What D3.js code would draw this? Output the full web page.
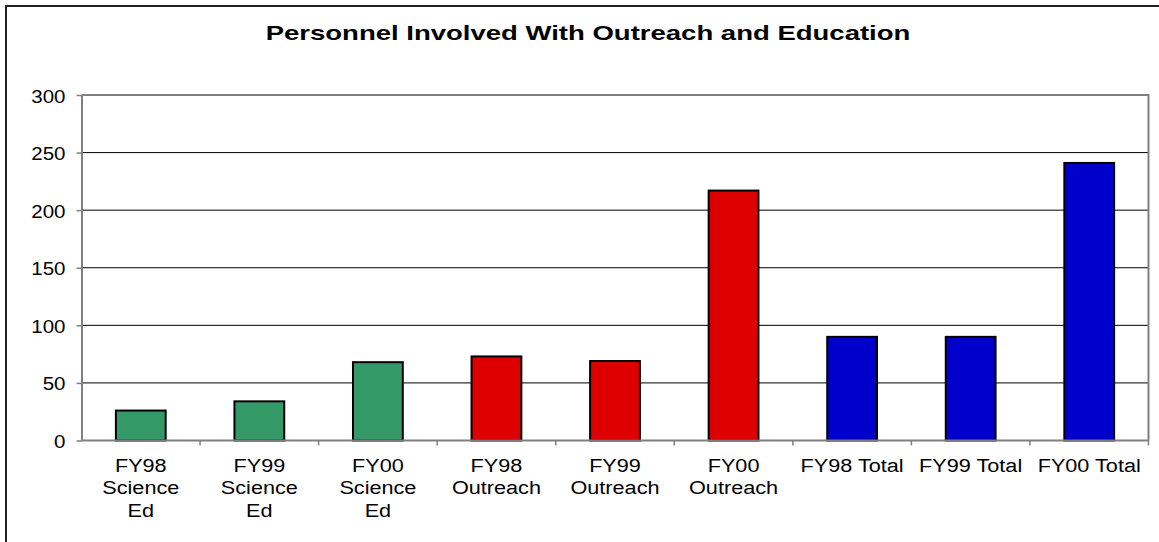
<!DOCTYPE html>
<html>
<head>
<meta charset="utf-8">
<script src="https://cdn.jsdelivr.net/npm/d3@7"></script>
<style>
	body { margin: 0; background: #fff; }
	text { font-family: Arial, "Liberation Sans", sans-serif; fill: #000; }
</style>
</head>
<body>
<div class="chart"></div>
<script>
// data
var categories = ["FY98 Science Ed", "FY99 Science Ed", "FY00 Science Ed",
		"FY98 Outreach", "FY99 Outreach", "FY00 Outreach",
		"FY98 Total", "FY99 Total", "FY00 Total"];
var labelLines = [["FY98", "Science", "Ed"], ["FY99", "Science", "Ed"], ["FY00", "Science", "Ed"],
		["FY98", "Outreach"], ["FY99", "Outreach"], ["FY00", "Outreach"],
		["FY98 Total"], ["FY99 Total"], ["FY00 Total"]];
var values = [26, 34, 68, 73, 69, 217, 90, 90, 241];
var groups = ["sci", "sci", "sci", "out", "out", "out", "tot", "tot", "tot"];
var yTicks = [0, 50, 100, 150, 200, 250, 300];
var title = "Personnel Involved With Outreach and Education";

var width = 1159,
	height = 542;
var plot = {left: 81.5, right: 1148.5, top: 95, bottom: 440.5};
var colors = {sci: "#339966", out: "#dd0000", tot: "#0000cc"};

var svg = d3.select(".chart").append("svg")
	.attr("width", width)
	.attr("height", height);

// outer chart border, runs off the right and bottom edge
svg.append("rect")
	.attr("x", 6).attr("y", 6)
	.attr("width", 1300).attr("height", 700)
	.attr("fill", "none")
	.attr("stroke", "#222")
	.attr("stroke-width", 2);

svg.append("text")
	.attr("transform", "translate(588,40) scale(1.31,1)")
	.attr("text-anchor", "middle")
	.style("font-size", "21px")
	.style("font-weight", "bold")
	.text(title);

var x = d3.scaleBand()
	.domain(categories)
	.range([plot.left, plot.right]);

var y = d3.scaleLinear()
	.domain([0, 300])
	.range([plot.bottom, plot.top]);

// gridlines
svg.selectAll("line.grid")
	.data(yTicks.filter(function(d) { return d > 0 && d < 300; })).enter()
	.append("line")
	.attr("class", "grid")
	.attr("x1", plot.left).attr("x2", plot.right)
	.attr("y1", function(d) { return y(d); })
	.attr("y2", function(d) { return y(d); })
	.attr("stroke", "#000")
	.attr("stroke-width", 1);

// plot frame top and right
svg.append("path")
	.attr("d", "M" + plot.left + "," + y(300) + "H" + plot.right + "V" + y(0))
	.attr("fill", "none")
	.attr("stroke", "#808080")
	.attr("stroke-width", 2);

// bars
svg.selectAll("rect.bar")
	.data(values).enter()
	.append("rect")
	.attr("class", "bar")
	.attr("x", function(d, i) { return x(categories[i]) + x.bandwidth() * 0.29; })
	.attr("width", x.bandwidth() * 0.42)
	.attr("y", function(d) { return y(d); })
	.attr("height", function(d) { return y(0) - y(d); })
	.attr("fill", function(d, i) { return colors[groups[i]]; })
	.attr("stroke", "#000")
	.attr("stroke-width", 2);

// y axis
var yAxis = svg.append("g")
	.attr("transform", "translate(" + plot.left + ",0)")
	.call(d3.axisLeft(y).tickValues(yTicks).tickSize(5).tickSizeOuter(0).tickFormat(d3.format("d")));
yAxis.select(".domain").attr("stroke", "#808080").attr("stroke-width", 2);
yAxis.selectAll(".tick line").attr("stroke", "#808080").attr("stroke-width", 1.5);
yAxis.selectAll(".tick text")
	.attr("x", null).attr("dy", null)
	.attr("transform", "translate(-16,7) scale(1.08,1)")
	.style("font-size", "19px")
	.style("font-family", "Arial, 'Liberation Sans', sans-serif")
	.attr("fill", "#000");

// x axis
svg.append("line")
	.attr("x1", plot.left).attr("x2", plot.right)
	.attr("y1", y(0)).attr("y2", y(0))
	.attr("stroke", "#808080")
	.attr("stroke-width", 2);

svg.selectAll("line.xtick")
	.data(categories.slice(1).concat([null])).enter()
	.append("line")
	.attr("class", "xtick")
	.attr("x1", function(d) { return d ? x(d) : plot.right; })
	.attr("x2", function(d) { return d ? x(d) : plot.right; })
	.attr("y1", y(0)).attr("y2", y(0) + 5)
	.attr("stroke", "#808080")
	.attr("stroke-width", 1.5);

svg.selectAll("text.xlabel")
	.data(labelLines).enter()
	.append("text")
	.attr("class", "xlabel")
	.attr("text-anchor", "middle")
	.attr("transform", function(d, i) {
		return "translate(" + (x(categories[i]) + x.bandwidth() / 2) + ",472) scale(1.14,1)";
	})
	.style("font-size", "19px")
	.selectAll("tspan")
	.data(function(d) { return d; }).enter()
	.append("tspan")
	.attr("x", 0)
	.attr("y", function(d, i) { return 22.5 * i; })
	.text(function(d) { return d; });
</script>
</body>
</html>
